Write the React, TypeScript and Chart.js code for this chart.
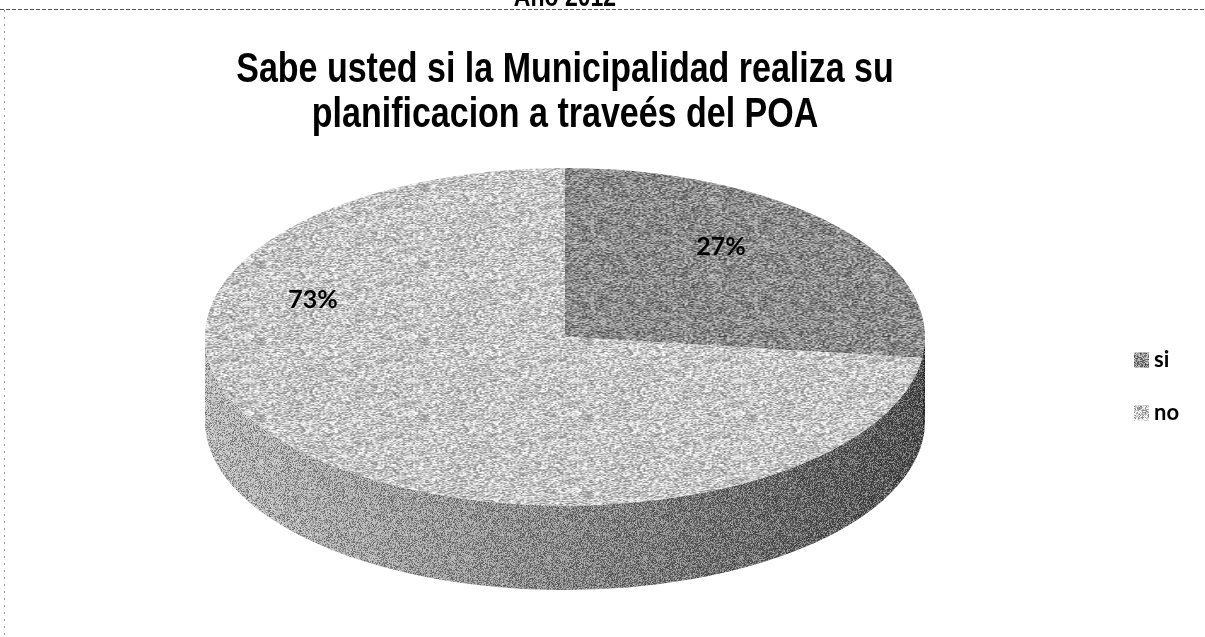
import React, { useEffect, useRef } from "react";
import { Chart, registerables } from "chart.js";

Chart.register(...registerables);

// ---------- data ----------
const categories: string[] = ["si", "no"];
const values: number[] = [27, 73];
const valueLabels: string[] = ["27%", "73%"];
const titleLines: string[] = [
  "Sabe usted si la Municipalidad realiza su",
  "planificacion a traveés del POA",
];
const headerText = "Año 2012";

// ---------- style ----------
const TOP_GRAY = [0x8c, 0xc8];
const SIDE_STOPS: Array<Array<[number, string]>> = [
  [[0, "#3a3a3a"], [1, "#2e2e2e"]],
  [[0, "#c0c0c0"], [0.3, "#a0a0a0"], [0.6, "#7c7c7c"], [1, "#4a4a4a"]],
];
const DEPTH_RATIO = 0.2;
const LABEL_POS: Array<[number, number]> = [
  [0.433, -0.53],
  [-0.7, -0.22],
];
const TITLE_SIZE = 34;
const TITLE_LINE = 36;
const TITLE_STRETCH = 1.25;

function hash(x: number, y: number): number {
  let n = Math.imul(x, 374761393) + Math.imul(y, 668265263);
  n = Math.imul(n ^ (n >>> 13), 1274126177);
  n = n ^ (n >>> 16);
  return (n >>> 0) / 4294967296;
}

function makeNoise(gray: number, amp: number, seed: number): CanvasPattern {
  const S = 96;
  const c = document.createElement("canvas");
  c.width = S;
  c.height = S;
  const g = c.getContext("2d")!;
  const img = g.createImageData(S, S);
  for (let y = 0; y < S; y++) {
    for (let x = 0; x < S; x++) {
      const h = hash(x + seed * 131, y + seed * 71);
      const v = Math.max(0, Math.min(255, Math.round(gray + (h - 0.5) * amp)));
      const i = (y * S + x) * 4;
      img.data[i] = v;
      img.data[i + 1] = v;
      img.data[i + 2] = v;
      img.data[i + 3] = 255;
    }
  }
  g.putImageData(img, 0, 0);
  return g.createPattern(c, "repeat")!;
}

function makeOverlay(amp: number, seed: number): CanvasPattern {
  const S = 96;
  const c = document.createElement("canvas");
  c.width = S;
  c.height = S;
  const g = c.getContext("2d")!;
  const img = g.createImageData(S, S);
  for (let y = 0; y < S; y++) {
    for (let x = 0; x < S; x++) {
      const h = hash(x * 3 + seed, y * 5 + seed * 7);
      const v = h < 0.5 ? 0 : 255;
      const i = (y * S + x) * 4;
      img.data[i] = v;
      img.data[i + 1] = v;
      img.data[i + 2] = v;
      img.data[i + 3] = Math.round(Math.abs(h - 0.5) * 2 * amp);
    }
  }
  g.putImageData(img, 0, 0);
  return g.createPattern(c, "repeat")!;
}

function geom(ca: { left: number; right: number; top: number; bottom: number }) {
  const w = ca.right - ca.left;
  const h = ca.bottom - ca.top;
  const depth = h * DEPTH_RATIO;
  const rx = w / 2;
  const ry = (h - depth) / 2;
  return { cx: ca.left + rx, cy: ca.top + ry, rx, ry, depth };
}

export default function App() {
  const ref = useRef<HTMLCanvasElement | null>(null);

  useEffect(() => {
    if (!ref.current) return;
    const topPatterns = TOP_GRAY.map((g, i) => makeNoise(g, 150, i + 1));
    const overlay = makeOverlay(110, 9);

    const pie3d = {
      id: "pie3d",
      afterLayout(chart: any) {
        const tb = chart.titleBlock;
        if (tb && !tb.__stretched) {
          tb.__stretched = true;
          const orig = tb.draw.bind(tb);
          tb.draw = function () {
            const ctx: CanvasRenderingContext2D = chart.ctx;
            const y0 = tb.top + (TITLE_LINE * titleLines.length) / 2;
            ctx.save();
            ctx.translate(0, y0);
            ctx.scale(1, TITLE_STRETCH);
            ctx.translate(0, -y0);
            orig();
            ctx.restore();
          };
        }
      },
      beforeDatasetsDraw(chart: any) {
        const meta = chart.getDatasetMeta(0);
        const a0 = meta.data[0];
        if (!a0) return;
        const ctx: CanvasRenderingContext2D = chart.ctx;
        const { cx, cy, rx, ry, depth } = geom(chart.chartArea);
        meta.data.forEach((arc: any, i: number) => {
          const s = Math.max(arc.startAngle, 0);
          const e = Math.min(arc.endAngle, Math.PI);
          if (e <= s) return;
          ctx.save();
          ctx.beginPath();
          ctx.ellipse(cx, cy, rx, ry, 0, s, e, false);
          ctx.ellipse(cx, cy + depth, rx, ry, 0, e, s, true);
          ctx.closePath();
          const grad = ctx.createLinearGradient(cx - rx, 0, cx + rx, 0);
          SIDE_STOPS[i].forEach(([o, c]) => grad.addColorStop(o, c));
          ctx.fillStyle = grad;
          ctx.fill();
          ctx.fillStyle = overlay;
          ctx.fill();
          ctx.restore();
        });
        ctx.save();
        ctx.translate(cx, cy);
        ctx.scale(rx / a0.outerRadius, ry / a0.outerRadius);
        ctx.translate(-a0.x, -a0.y);
      },
      afterDatasetsDraw(chart: any) {
        const ctx: CanvasRenderingContext2D = chart.ctx;
        const meta = chart.getDatasetMeta(0);
        if (!meta.data[0]) return;
        ctx.restore();
        const { cx, cy, rx, ry } = geom(chart.chartArea);
        ctx.save();
        ctx.fillStyle = "#000";
        ctx.font = "bold 25px Lato";
        ctx.textAlign = "center";
        ctx.textBaseline = "middle";
        valueLabels.forEach((t, i) => {
          const [fx, fy] = LABEL_POS[i];
          ctx.fillText(t, cx + fx * rx, cy + fy * ry);
        });
        ctx.restore();
      },
      afterDraw(chart: any) {
        const ctx: CanvasRenderingContext2D = chart.ctx;
        const W = chart.width;
        const H = chart.height;
        ctx.save();
        // scanned page frame
        ctx.lineWidth = 1;
        ctx.strokeStyle = "#555";
        ctx.setLineDash([4, 2]);
        ctx.beginPath();
        ctx.moveTo(0, 9.5);
        ctx.lineTo(W, 9.5);
        ctx.stroke();
        ctx.strokeStyle = "#999";
        ctx.setLineDash([2, 5]);
        ctx.beginPath();
        ctx.moveTo(4.5, 10);
        ctx.lineTo(4.5, H);
        ctx.stroke();
        ctx.setLineDash([]);
        // cut header (only its lower part is on the page)
        const ca = chart.chartArea;
        ctx.fillStyle = "#000";
        ctx.font = "bold 23px 'Liberation Sans', Arial, sans-serif";
        ctx.textAlign = "center";
        ctx.textBaseline = "alphabetic";
        ctx.save();
        ctx.translate(0, 6);
        ctx.scale(1, TITLE_STRETCH);
        ctx.fillText(headerText, (ca.left + ca.right) / 2, 0);
        ctx.restore();
        // legend
        const lx = W - 71;
        const ly0 = ca.top + (ca.bottom - ca.top) / 2 - 19;
        ctx.font = "bold 22px Lato";
        ctx.textBaseline = "middle";
        ctx.textAlign = "left";
        categories.forEach((c, i) => {
          const y = ly0 + i * 53;
          ctx.fillStyle = topPatterns[i];
          ctx.fillRect(lx, y - 7.5, 15, 15);
          ctx.fillStyle = "#000";
          ctx.fillText(c, lx + 20, y);
        });
        ctx.restore();
      },
    };

    const chart = new Chart(ref.current, {
      type: "pie",
      data: {
        labels: categories,
        datasets: [
          {
            data: values,
            backgroundColor: topPatterns as any,
            borderWidth: 0,
            clip: false as any,
          },
        ],
      },
      options: {
        responsive: true,
        maintainAspectRatio: false,
        animation: false,
        events: [],
        layout: { padding: { left: 205, right: 280, top: 56.5, bottom: 47 } },
        plugins: {
          legend: { display: false },
          tooltip: { enabled: false },
          title: {
            display: true,
            text: titleLines,
            fullSize: false,
            color: "#000",
            font: {
              family: "'Liberation Sans', Arial, sans-serif",
              size: TITLE_SIZE,
              weight: "bold",
              lineHeight: TITLE_LINE / TITLE_SIZE,
            },
            padding: { top: 0, bottom: 39.5 },
          },
        },
      },
      plugins: [pie3d],
    });
    return () => chart.destroy();
  }, []);

  return (
    <div style={{ position: "fixed", left: 0, top: 0, width: 1205, height: 637, background: "#fff" }}>
      <canvas ref={ref} />
    </div>
  );
}
